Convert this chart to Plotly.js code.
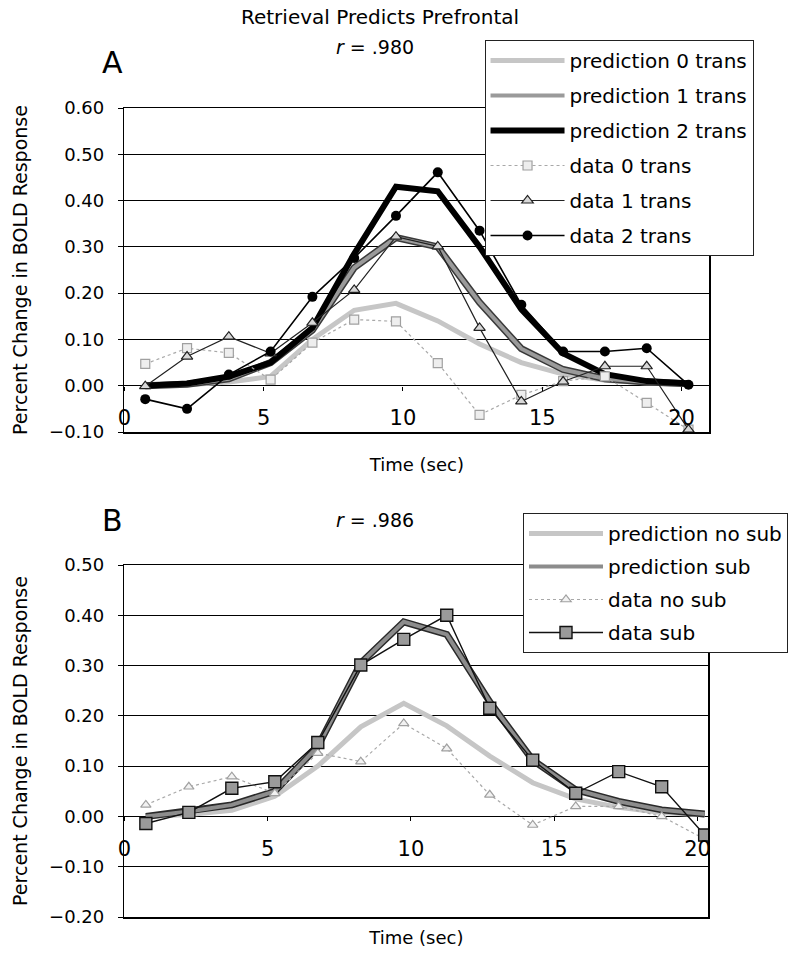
<!DOCTYPE html>
<html>
<head>
<meta charset="utf-8">
<script src="https://cdn.plot.ly/plotly-3.0.1.min.js"></script>
<style>
html,body{margin:0;padding:0;background:#fff;}
#chart{width:788px;height:955px;}
</style>
</head>
<body>
<div id="chart"></div>
<script>
// ---- data ----
const timeSec = [0.75, 2.25, 3.75, 5.25, 6.75, 8.25, 9.75, 11.25, 12.75, 14.25, 15.75, 17.25, 18.75, 20.25];
const xTickVals = [0, 5, 10, 15, 20];

// Panel A
const pred0Trans = [0.000, 0.002, 0.008, 0.020, 0.100, 0.163, 0.178, 0.140, 0.090, 0.050, 0.025, 0.012, 0.006, 0.003];
const pred1Trans = [0.000, 0.003, 0.015, 0.050, 0.120, 0.255, 0.320, 0.300, 0.180, 0.080, 0.035, 0.015, 0.008, 0.004];
const pred2Trans = [0.000, 0.005, 0.020, 0.050, 0.125, 0.285, 0.430, 0.420, 0.300, 0.165, 0.070, 0.025, 0.010, 0.005];
const data0Trans = [0.047, 0.081, 0.071, 0.013, 0.093, 0.143, 0.139, 0.049, -0.063, -0.020, 0.010, 0.020, -0.037, -0.095];
const data1Trans = [-0.001, 0.063, 0.106, 0.070, 0.136, 0.207, 0.322, 0.301, 0.125, -0.034, 0.009, 0.042, 0.042, -0.095];
const data2Trans = [-0.029, -0.050, 0.024, 0.074, 0.192, 0.276, 0.367, 0.461, 0.335, 0.175, 0.074, 0.074, 0.081, 0.002];

// Panel B
const predNoSub = [0.000, 0.004, 0.012, 0.040, 0.100, 0.178, 0.225, 0.180, 0.120, 0.067, 0.035, 0.018, 0.008, 0.003];
const predSub   = [0.000, 0.010, 0.023, 0.050, 0.139, 0.305, 0.387, 0.362, 0.228, 0.112, 0.053, 0.030, 0.013, 0.005];
const dataNoSub = [0.023, 0.059, 0.079, 0.046, 0.126, 0.109, 0.185, 0.135, 0.043, -0.017, 0.020, 0.020, 0.000, -0.045];
const dataSub   = [-0.014, 0.008, 0.056, 0.069, 0.147, 0.301, 0.352, 0.400, 0.215, 0.112, 0.046, 0.089, 0.059, -0.037];

// ---- traces ----
const traces = [
  // Panel A predictions
  {x: timeSec, y: pred0Trans, name: 'prediction 0 trans', mode: 'lines', legendgroup: 'a1',
   line: {color: '#c6c6c6', width: 5}, xaxis: 'x', yaxis: 'y'},
  {x: timeSec, y: pred1Trans, name: 'prediction 1 trans (edge)', mode: 'lines', legendgroup: 'a2', showlegend: false,
   line: {color: '#3a3a3a', width: 7}, xaxis: 'x', yaxis: 'y', hoverinfo: 'skip'},
  {x: timeSec, y: pred1Trans, name: 'prediction 1 trans', mode: 'lines', legendgroup: 'a2',
   line: {color: '#9a9a9a', width: 4}, xaxis: 'x', yaxis: 'y'},
  {x: timeSec, y: pred2Trans, name: 'prediction 2 trans', mode: 'lines', legendgroup: 'a3',
   line: {color: '#000000', width: 6}, xaxis: 'x', yaxis: 'y'},
  // Panel A data
  {x: timeSec, y: data0Trans, name: 'data 0 trans', mode: 'lines+markers', legendgroup: 'a4',
   line: {color: '#a8a8a8', width: 1.2, dash: 'dot'},
   marker: {symbol: 'square', size: 9, color: '#eeeeee', line: {color: '#a0a0a0', width: 1.2}},
   xaxis: 'x', yaxis: 'y'},
  {x: timeSec, y: data1Trans, name: 'data 1 trans', mode: 'lines+markers', legendgroup: 'a5',
   line: {color: '#222222', width: 1.2},
   marker: {symbol: 'triangle-up', size: 10, color: '#d8d8d8', line: {color: '#222222', width: 1.2}},
   xaxis: 'x', yaxis: 'y'},
  {x: timeSec, y: data2Trans, name: 'data 2 trans', mode: 'lines+markers', legendgroup: 'a6',
   line: {color: '#000000', width: 1.6},
   marker: {symbol: 'circle', size: 10, color: '#000000'},
   xaxis: 'x', yaxis: 'y'},

  // Panel B predictions
  {x: timeSec, y: predNoSub, name: 'prediction no sub', mode: 'lines', legend: 'legend2', legendgroup: 'b1',
   line: {color: '#c6c6c6', width: 5}, xaxis: 'x2', yaxis: 'y2'},
  {x: timeSec, y: predSub, name: 'prediction sub (edge)', mode: 'lines', legend: 'legend2', legendgroup: 'b2', showlegend: false,
   line: {color: '#2a2a2a', width: 7}, xaxis: 'x2', yaxis: 'y2', hoverinfo: 'skip'},
  {x: timeSec, y: predSub, name: 'prediction sub', mode: 'lines', legend: 'legend2', legendgroup: 'b2',
   line: {color: '#8c8c8c', width: 4}, xaxis: 'x2', yaxis: 'y2'},
  // Panel B data
  {x: timeSec, y: dataNoSub, name: 'data no sub', mode: 'lines+markers', legend: 'legend2', legendgroup: 'b3',
   line: {color: '#a8a8a8', width: 1.2, dash: 'dot'},
   marker: {symbol: 'triangle-up', size: 9, color: '#f2f2f2', line: {color: '#a0a0a0', width: 1.2}},
   xaxis: 'x2', yaxis: 'y2'},
  {x: timeSec, y: dataSub, name: 'data sub', mode: 'lines+markers', legend: 'legend2', legendgroup: 'b4',
   line: {color: '#111111', width: 1.4},
   marker: {symbol: 'square', size: 12, color: '#9a9a9a', line: {color: '#111111', width: 1.4}},
   xaxis: 'x2', yaxis: 'y2'},

  // empty carriers for the tick-label axes that cross at y = 0
  {x: [], y: [], xaxis: 'x3', yaxis: 'y', showlegend: false, hoverinfo: 'skip', mode: 'lines'},
  {x: [], y: [], xaxis: 'x4', yaxis: 'y2', showlegend: false, hoverinfo: 'skip', mode: 'lines', legend: 'legend2'}
];

const W = 788, H = 955;
const px = v => v / W;
const py = v => 1 - v / H;

const tickFontX = {family: 'DejaVu Sans', size: 21, color: '#000'};
const tickFontY = {family: 'DejaVu Sans', size: 18, color: '#000'};

const domA = [py(432), py(108)], rangeA = [-0.1, 0.6];
const domB = [py(917), py(565)], rangeB = [-0.2, 0.5];
const xRangeA = [0, 21], xRangeB = [0, 20.38];
const zeroPos = (dom, rng) => dom[0] + (0 - rng[0]) / (rng[1] - rng[0]) * (dom[1] - dom[0]);

function xFrame(domain, range, anchor, standoff) {
  return {
    domain: domain, range: range, anchor: anchor,
    showgrid: false, zeroline: false, showline: true, mirror: true,
    linecolor: '#000', linewidth: 1.5, ticks: '', showticklabels: false, fixedrange: true,
    title: {text: 'Time (sec)', font: {family: 'DejaVu Sans', size: 18, color: '#000'}, standoff: standoff}
  };
}
function xLabels(range, overlay, pos) {
  return {
    overlaying: overlay, anchor: 'free', position: pos, range: range,
    tickmode: 'array', tickvals: xTickVals, ticktext: xTickVals.map(String),
    showgrid: false, zeroline: false, showline: false,
    ticks: 'outside', ticklen: 4, tickcolor: '#000', tickwidth: 1,
    tickfont: tickFontX, ticklabelstandoff: 9, fixedrange: true
  };
}
function yAxis(domain, range, anchor) {
  return {
    domain: domain, range: range, anchor: anchor, tick0: 0, dtick: 0.1, tickformat: '.2f',
    showgrid: true, gridcolor: '#000', gridwidth: 1,
    zeroline: true, zerolinecolor: '#000', zerolinewidth: 1.5,
    showline: true, mirror: true, linecolor: '#000', linewidth: 1.5,
    ticks: 'outside', ticklen: 5, tickcolor: '#000', tickfont: tickFontY,
    ticklabelstandoff: 10, fixedrange: true,
    title: {text: 'Percent Change in BOLD Response', font: {family: 'DejaVu Sans', size: 19, color: '#000'}, standoff: 16}
  };
}

const legendBase = {
  xanchor: 'left', yanchor: 'top', bgcolor: '#ffffff', bordercolor: '#222', borderwidth: 1,
  font: {family: 'DejaVu Sans', size: 20, color: '#000'}, itemwidth: 74,
  traceorder: 'grouped', orientation: 'v'
};

const layout = {
  width: W, height: H,
  margin: {l: 0, r: 0, t: 0, b: 0},
  paper_bgcolor: '#fff', plot_bgcolor: '#fff',
  font: {family: 'DejaVu Sans', color: '#000', size: 18},
  title: {text: 'Retrieval Predicts Prefrontal', x: px(380), xanchor: 'center', y: py(17), yanchor: 'middle',
          font: {family: 'DejaVu Sans', size: 20, color: '#000'}},
  xaxis: xFrame([px(125), px(713)], xRangeA, 'y', 26),
  yaxis: yAxis(domA, rangeA, 'x'),
  xaxis2: xFrame([px(125), px(712)], xRangeB, 'y2', 14),
  yaxis2: yAxis(domB, rangeB, 'x2'),
  xaxis3: xLabels(xRangeA, 'x', zeroPos(domA, rangeA)),
  xaxis4: xLabels(xRangeB, 'x2', zeroPos(domB, rangeB)),
  legend: Object.assign({}, legendBase, {x: px(487), y: py(40), tracegroupgap: 6}),
  legend2: Object.assign({}, legendBase, {x: px(526), y: py(513), tracegroupgap: 4}),
  annotations: [
    {text: 'A', x: px(113), y: py(62), xref: 'paper', yref: 'paper', showarrow: false,
     xanchor: 'center', yanchor: 'middle', font: {family: 'DejaVu Sans', size: 30, color: '#000'}},
    {text: '<i>r</i> = .980', x: px(377), y: py(47), xref: 'paper', yref: 'paper', showarrow: false,
     xanchor: 'center', yanchor: 'middle', font: {family: 'DejaVu Sans', size: 19, color: '#000'}},
    {text: 'B', x: px(113), y: py(520), xref: 'paper', yref: 'paper', showarrow: false,
     xanchor: 'center', yanchor: 'middle', font: {family: 'DejaVu Sans', size: 30, color: '#000'}},
    {text: '<i>r</i> = .986', x: px(377), y: py(520), xref: 'paper', yref: 'paper', showarrow: false,
     xanchor: 'center', yanchor: 'middle', font: {family: 'DejaVu Sans', size: 19, color: '#000'}}
  ]
};

Plotly.newPlot('chart', traces, layout, {displayModeBar: false, staticPlot: true});
</script>
</body>
</html>
